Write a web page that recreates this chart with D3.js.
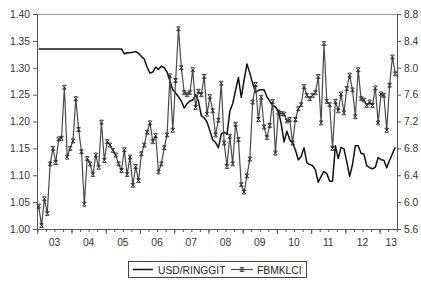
<!DOCTYPE html>
<html>
<head>
<meta charset="utf-8">
<script src="https://cdn.jsdelivr.net/npm/d3@7"></script>
<style>
  body { margin: 0; background: #fff; }
  svg { display: block; font-family: "Liberation Sans", Arial, sans-serif; }
</style>
</head>
<body>
<div id="chart"></div>
<script>
// monthly observations, 2003M01 .. 2013M06
const startYear = 2003;
const yearLabels = ["03", "04", "05", "06", "07", "08", "09", "10", "11", "12", "13"];
const seriesNames = ["USD/RINGGIT", "FBMKLCI"];
const leftTicks = [1.00, 1.05, 1.10, 1.15, 1.20, 1.25, 1.30, 1.35, 1.40];
const rightTicks = [5.6, 6.0, 6.4, 6.8, 7.2, 7.6, 8.0, 8.4, 8.8];

// left axis
const usdRinggit = [
  1.335, 1.335, 1.335, 1.335, 1.335, 1.335, 1.335, 1.335, 1.335, 1.335, 1.335, 1.335,
  1.335, 1.335, 1.335, 1.335, 1.335, 1.335, 1.335, 1.335, 1.335, 1.335, 1.335, 1.335,
  1.335, 1.335, 1.335, 1.335, 1.335, 1.335, 1.326, 1.328, 1.328, 1.329, 1.330, 1.327,
  1.321, 1.316, 1.301, 1.290, 1.292, 1.301, 1.297, 1.303, 1.300, 1.292, 1.276, 1.259,
  1.253, 1.246, 1.238, 1.225, 1.233, 1.238, 1.240, 1.250, 1.238, 1.211, 1.207, 1.199,
  1.183, 1.166, 1.161, 1.151, 1.177, 1.180, 1.176, 1.219, 1.233, 1.258, 1.282, 1.245,
  1.277, 1.307, 1.290, 1.271, 1.254, 1.258, 1.259, 1.259, 1.246, 1.238, 1.230, 1.227,
  1.220, 1.196, 1.162, 1.182, 1.166, 1.160, 1.147, 1.129, 1.135, 1.151, 1.123, 1.120,
  1.118, 1.110, 1.087, 1.098, 1.107, 1.103, 1.089, 1.089, 1.155, 1.131, 1.152, 1.149,
  1.125, 1.098, 1.120, 1.155, 1.155, 1.141, 1.139, 1.118, 1.114, 1.112, 1.115, 1.133,
  1.129, 1.128, 1.114, 1.128, 1.140, 1.152
];

// right axis
const fbmklci = [
  5.94, 5.65, 6.05, 5.83, 6.57, 6.80, 6.59, 6.94, 6.95, 7.71, 6.67, 6.80,
  6.91, 7.54, 7.08, 6.75, 5.97, 6.65, 6.57, 6.41, 6.70, 6.52, 7.19, 6.62,
  6.90, 6.85, 6.77, 6.70, 6.57, 6.47, 6.78, 6.41, 6.67, 6.25, 6.53, 6.32,
  6.72, 6.85, 7.04, 7.18, 6.90, 6.99, 6.45, 6.57, 6.81, 7.00, 7.88, 7.07,
  7.81, 8.58, 8.00, 7.63, 7.60, 7.63, 7.97, 7.41, 7.65, 7.60, 7.87, 7.31,
  7.57, 7.36, 7.00, 7.22, 7.77, 6.88, 6.53, 6.98, 6.57, 7.16, 6.93, 6.26,
  6.15, 6.39, 6.64, 7.49, 7.75, 7.23, 7.56, 7.12, 6.96, 7.14, 7.50, 6.73,
  7.34, 7.32, 7.31, 7.21, 7.23, 6.88, 7.23, 7.39, 7.45, 7.72, 7.59, 7.54,
  7.59, 7.63, 7.87, 7.18, 8.36, 7.50, 7.45, 6.80, 7.50, 7.36, 7.61, 7.33,
  7.69, 7.89, 7.67, 7.27, 7.97, 7.54, 7.52, 7.44, 7.49, 7.44, 7.70, 7.18,
  7.61, 7.59, 7.07, 7.74, 8.16, 7.91
];

function drawChart() {
  const width = 421;
  const height = 281;
  const plot = { left: 37, right: 397, top: 14, bottom: 229 };
  const n = usdRinggit.length;

  const svg = d3.select("#chart")
    .append("svg")
    .attr("width", width)
    .attr("height", height);

  // scales
  const xScale = d3.scaleLinear()
    .domain([-0.6, n - 0.4])
    .range([plot.left, plot.right]);
  const yLeft = d3.scaleLinear()
    .domain([leftTicks[0], leftTicks[leftTicks.length - 1]])
    .range([plot.bottom, plot.top]);
  const yRight = d3.scaleLinear()
    .domain([rightTicks[0], rightTicks[rightTicks.length - 1]])
    .range([plot.bottom, plot.top]);

  // top frame line
  svg.append("line")
    .attr("x1", plot.left).attr("x2", plot.right)
    .attr("y1", plot.top + 0.5).attr("y2", plot.top + 0.5)
    .attr("stroke", "#9a9a9a");

  // axes
  const styleAxis = (g) => {
    g.selectAll(".domain").attr("stroke", "#555");
    g.selectAll(".tick line").attr("stroke", "#555");
    g.selectAll("text").attr("fill", "#333").style("font-size", "10.3px");
  };

  svg.append("g")
    .attr("transform", `translate(${plot.left},0)`)
    .call(d3.axisLeft(yLeft).tickValues(leftTicks).tickFormat(d3.format(".2f"))
      .tickSize(4).tickSizeOuter(0).tickPadding(3))
    .call(styleAxis);

  svg.append("g")
    .attr("transform", `translate(${plot.right},0)`)
    .call(d3.axisRight(yRight).tickValues(rightTicks).tickFormat(d3.format(".1f"))
      .tickSize(4).tickSizeOuter(0).tickPadding(3))
    .call(styleAxis);

  // bottom axis: quarter ticks, longer year ticks, year labels centred
  const quarterTicks = d3.range(-0.5, n, 3);
  const yearTicks = d3.range(-0.5, n, 12);

  svg.append("g")
    .attr("transform", `translate(0,${plot.bottom})`)
    .call(d3.axisBottom(xScale).tickValues(quarterTicks).tickFormat("")
      .tickSize(3).tickSizeOuter(0))
    .call(styleAxis);

  svg.append("g")
    .attr("transform", `translate(0,${plot.bottom})`)
    .call(d3.axisBottom(xScale).tickValues(yearTicks).tickFormat("")
      .tickSize(5).tickSizeOuter(0))
    .call(styleAxis)
    .select(".domain").remove();

  svg.append("g")
    .selectAll("text")
    .data(yearLabels)
    .join("text")
    .attr("x", (d, i) => xScale(Math.min(i * 12 + 5.5, n - 2.4)))
    .attr("y", plot.bottom + 17)
    .attr("text-anchor", "middle")
    .attr("fill", "#333")
    .style("font-size", "10.3px")
    .text((d) => d);

  // series
  const usdLine = d3.line()
    .x((d, i) => xScale(i))
    .y((d) => yLeft(d));
  const kciLine = d3.line()
    .x((d, i) => xScale(i))
    .y((d) => yRight(d));

  svg.append("path")
    .datum(usdRinggit)
    .attr("d", usdLine)
    .attr("fill", "none")
    .attr("stroke", "#111")
    .attr("stroke-width", 1.5)
    .attr("stroke-linejoin", "round");

  svg.append("path")
    .datum(fbmklci)
    .attr("d", kciLine)
    .attr("fill", "none")
    .attr("stroke", "#4a4a4a")
    .attr("stroke-width", 1.2)
    .attr("stroke-linejoin", "round");

  // hourglass-x marker like the EViews one
  const marker = "M-2,-2L2,2M2,-2L-2,2M-1.6,-2L1.6,-2M-1.6,2L1.6,2";

  svg.append("g")
    .selectAll("path")
    .data(fbmklci)
    .join("path")
    .attr("transform", (d, i) => `translate(${xScale(i)},${yRight(d)})`)
    .attr("d", marker)
    .attr("fill", "none")
    .attr("stroke", "#222")
    .attr("stroke-width", 0.9);

  // legend
  const legend = svg.append("g");
  legend.append("rect")
    .attr("x", 128.5).attr("y", 261.5)
    .attr("width", 178).attr("height", 16)
    .attr("fill", "none")
    .attr("stroke", "#444");

  legend.append("line")
    .attr("x1", 133).attr("x2", 153)
    .attr("y1", 269.5).attr("y2", 269.5)
    .attr("stroke", "#111").attr("stroke-width", 1.5);
  legend.append("text")
    .attr("x", 158).attr("y", 273.5)
    .attr("fill", "#222")
    .style("font-size", "10.3px")
    .text(seriesNames[0]);

  legend.append("line")
    .attr("x1", 231).attr("x2", 253)
    .attr("y1", 269.5).attr("y2", 269.5)
    .attr("stroke", "#4a4a4a").attr("stroke-width", 1.2);
  legend.append("path")
    .attr("transform", "translate(242,269.5)")
    .attr("d", marker)
    .attr("fill", "none")
    .attr("stroke", "#222")
    .attr("stroke-width", 0.9);
  legend.append("text")
    .attr("x", 257).attr("y", 273.5)
    .attr("fill", "#222")
    .style("font-size", "10.3px")
    .text(seriesNames[1]);
}

drawChart();
</script>
</body>
</html>
